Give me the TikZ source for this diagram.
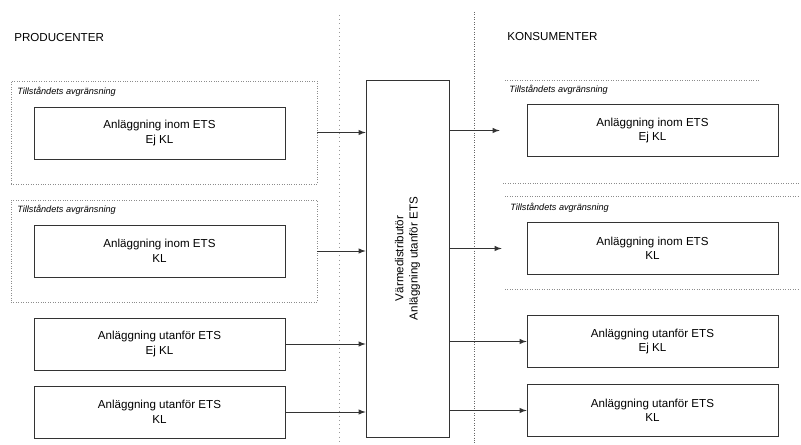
\documentclass[tikz,border=0pt]{standalone}
\usepackage{fontspec}
\setmainfont{Liberation Sans}
\usepackage{tikz}

\begin{document}
\begin{tikzpicture}[x=0.02cm,y=-0.02cm,
  every node/.style={font=\fontsize{6.6}{8.2}\selectfont},
  anl/.style={draw=black!80, minimum width=5.02cm, minimum height=1.04cm, align=center, inner sep=0pt},
  grp/.style={draw=black!45, densely dotted, minimum width=6.12cm, inner sep=0pt},
  tag/.style={anchor=west, inner sep=0pt, font=\fontsize{5.2}{6}\selectfont\itshape},
  head/.style={anchor=west, inner sep=0pt, font=\fontsize{6.6}{8}\selectfont}]
\useasboundingbox (0,0) rectangle (801,445);

\node[head] (prod) at (14,38) {PRODUCENTER};
\node[head] (kons) at (507,37) {KONSUMENTER};

\coordinate (vl1) at (339,15);
\coordinate (vl2) at (339,445);
\coordinate (vr1) at (474,12);
\coordinate (vr2) at (474,445);
\path[draw,black!40,dotted] (vl1) -- (vl2);
\path[draw,black!60,densely dotted] (vr1) -- (vr2);

\node[grp, minimum height=2.06cm] (g1) at (164,132.5) {};
\node[grp, minimum height=2.04cm] (g2) at (164,251) {};
\node[tag] at (17,92) {Tillståndets avgränsning};
\node[tag] at (17,210) {Tillståndets avgränsning};

\node[anl] (p1) at (159.5,133) {Anläggning inom ETS\\Ej KL};
\node[anl] (p2) at (159.5,251) {Anläggning inom ETS\\KL};
\node[anl] (p3) at (159.5,344) {Anläggning utanför ETS\\Ej KL};
\node[anl] (p4) at (159.5,412) {Anläggning utanför ETS\\KL};

\node[draw=black!80, minimum width=1.66cm, minimum height=7.14cm, inner sep=0pt] (dist) at (407.5,258.5) {};
\node[rotate=90, align=center] (distlbl) at (dist.center) {Värmedistributör\\Anläggning utanför ETS};

\coordinate (r1a) at (505,80);  \coordinate (r1b) at (760,80);
\coordinate (r2a) at (503,183); \coordinate (r2b) at (800,183);
\coordinate (r3a) at (505,196); \coordinate (r3b) at (800,196);
\coordinate (r4a) at (505,289); \coordinate (r4b) at (800,289);
\path[draw,black!45,densely dotted] (r1a) -- (r1b);
\path[draw,black!45,densely dotted] (r2a) -- (r2b);
\path[draw,black!45,densely dotted] (r3a) -- (r3b);
\path[draw,black!45,densely dotted] (r4a) -- (r4b);
\node[tag] at (509,90) {Tillståndets avgränsning};
\node[tag] at (510,208) {Tillståndets avgränsning};

\node[anl] (k1) at (652.5,130.5) {Anläggning inom ETS\\Ej KL};
\node[anl] (k2) at (652.5,248.5) {Anläggning inom ETS\\KL};
\node[anl] (k3) at (652.5,341.5) {Anläggning utanför ETS\\Ej KL};
\node[anl] (k4) at (652.5,410.5) {Anläggning utanför ETS\\KL};

\path[draw,black!80,-latex] (g1.east) -- (dist.west |- g1.east);
\path[draw,black!80,-latex] (g2.east) -- (dist.west |- g2.east);
\path[draw,black!80,-latex] (p3.east) -- (dist.west |- p3.east);
\path[draw,black!80,-latex] (p4.east) -- (dist.west |- p4.east);

\path[draw,black!80,-latex,shorten >=0.54cm] (dist.east |- k1.west) -- (k1.west);
\path[draw,black!80,-latex,shorten >=0.5cm] (dist.east |- k2.west) -- (k2.west);
\path[draw,black!80,-latex] (dist.east |- k3.west) -- (k3.west);
\path[draw,black!80,-latex] (dist.east |- k4.west) -- (k4.west);
\end{tikzpicture}
\end{document}
